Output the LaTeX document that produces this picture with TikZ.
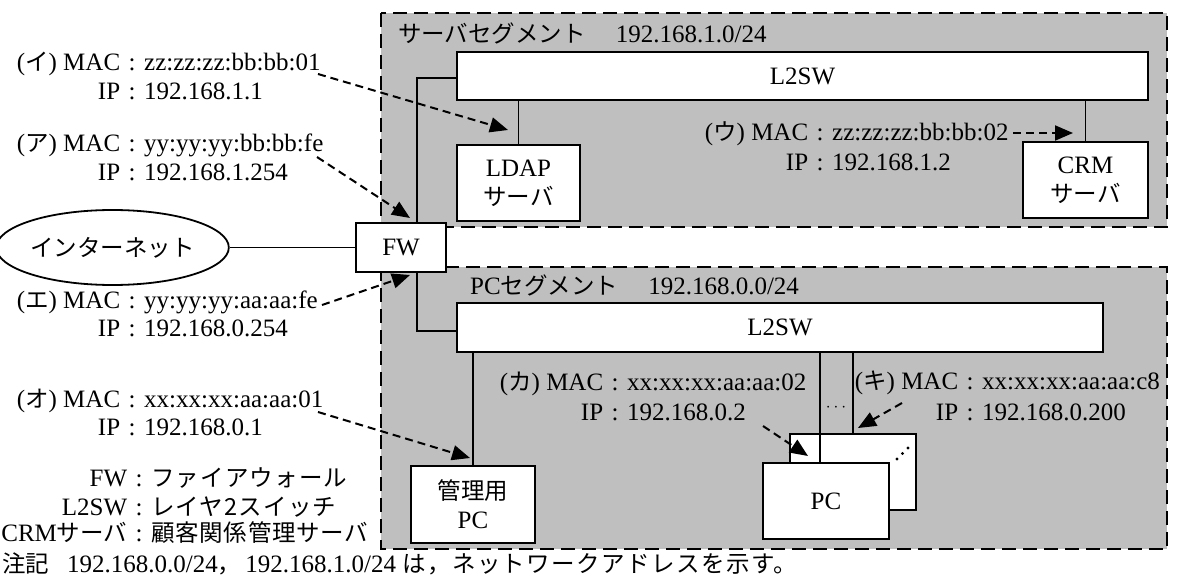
\documentclass[tikz,border=0pt]{standalone}
\usepackage{fontspec}
\setmainfont{Liberation Serif}
\newfontfamily\jpfont[Scale=0.94]{Noto Sans CJK JP}
\newcommand\J[1]{{\jpfont #1}}
\newcommand\kv[2]{\llap{#1}\makebox[24pt]{:}#2}
\usetikzlibrary{arrows.meta,shapes.geometric}
\begin{document}
\begin{tikzpicture}[x=1pt,y=-1pt,
  font=\fontsize{25}{29}\selectfont,
  seg/.style={draw, dash pattern=on 14pt off 7pt, line width=2pt, fill=black!25},
  box/.style={draw, line width=1.8pt, fill=white, inner sep=0pt, align=center},
  wire/.style={line width=1.8pt},
  ptr/.style={line width=2pt, dash pattern=on 8pt off 5pt, -{Triangle[length=18pt,width=15pt]}},
  lbl/.style={anchor=base west, inner sep=0pt},
]
\useasboundingbox (0,0) rectangle (1177,585);
\fill[white] (0,0) rectangle (1177,585);

% segments
\path[seg] (381,13) rectangle (1167,227);
\path[seg] (381,267) rectangle (1167,549);

\node[lbl] (sseg) at (398,43) {\J{サーバセグメント}\hspace{30pt}192.168.1.0/24};
\node[lbl] (pseg) at (470,294) {PC\J{セグメント}\hspace{30pt}192.168.0.0/24};

% boxes
\node[ellipse, draw, line width=1.8pt, fill=white, minimum width=211pt, minimum height=75pt, inner sep=0pt] (inet) at (112.5,247.5) {\J{インターネット}};
\node[box, minimum width=90pt, minimum height=49pt] (fw) at (401,247.5) {FW};
\node[box, minimum width=691pt, minimum height=48pt] (sw1) at (802.5,76) {L2SW};
\node[box, minimum width=123pt, minimum height=76pt] (ldap) at (518.5,183) {LDAP\\\J{サーバ}};
\node[box, minimum width=125pt, minimum height=76pt] (crm) at (1085.5,180) {CRM\\\J{サーバ}};
\node[box, minimum width=646pt, minimum height=49pt] (sw2) at (780,327.5) {L2SW};
\node[box, minimum width=124pt, minimum height=77pt] (mpc) at (473,504.5) {\J{管理用}\\PC};
\node[box, minimum width=126pt, minimum height=76pt] (pcb) at (853,472) {};
\node[box, minimum width=126pt, minimum height=76pt] (pcf) at (826,501) {PC};

% wires
\coordinate (fwx) at (417,0);
\coordinate (y1) at (0,78);
\coordinate (y2) at (0,331);
\coordinate (l1) at (820,0);
\draw[wire] (inet) -- (fw);
\draw[wire] (fw.north -| fwx) |- (sw1.west |- y1);
\draw[wire] (fw.south -| fwx) |- (sw2.west |- y2);
\draw[wire] (ldap.north) -- (ldap.north |- sw1.south);
\draw[wire] (crm.north) -- (crm.north |- sw1.south);
\draw[wire] (mpc.north) -- (mpc.north |- sw2.south);
\draw[wire] (pcb.north) -- (pcb.north |- sw2.south);
\draw[wire] (pcf.north -| l1) -- (sw2.south -| l1);
\node[inner sep=0pt] (dots) at (836,408) {\fontsize{18}{18}\selectfont$\cdots$};
\fill (897,459) circle (1.6) (902.5,453.5) circle (1.6) (908,448) circle (1.6);

% labels
\node[lbl] (iM) at (120,71) {\kv{(\J{イ}) MAC}{zz:zz:zz:bb:bb:01}};
\node[lbl] (iI) at (120,100) {\kv{IP}{192.168.1.1}};
\node[lbl] (aM) at (120,152) {\kv{(\J{ア}) MAC}{yy:yy:yy:bb:bb:fe}};
\node[lbl] (aI) at (120,181) {\kv{IP}{192.168.1.254}};
\node[lbl] (eM) at (120,308) {\kv{(\J{エ}) MAC}{yy:yy:yy:aa:aa:fe}};
\node[lbl] (eI) at (120,336) {\kv{IP}{192.168.0.254}};
\node[lbl] (oM) at (120,407) {\kv{(\J{オ}) MAC}{xx:xx:xx:aa:aa:01}};
\node[lbl] (oI) at (120,435) {\kv{IP}{192.168.0.1}};
\node[lbl] (uM) at (808,141) {\kv{(\J{ウ}) MAC}{zz:zz:zz:bb:bb:02}};
\node[lbl] (uI) at (808,171) {\kv{IP}{192.168.1.2}};
\node[lbl] (kaM) at (603,390) {\kv{(\J{カ}) MAC}{xx:xx:xx:aa:aa:02}};
\node[lbl] (kaI) at (603,420) {\kv{IP}{192.168.0.2}};
\node[lbl] (kiM) at (958,389) {\kv{(\J{キ}) MAC}{xx:xx:xx:aa:aa:c8}};
\node[lbl] (kiI) at (958,420) {\kv{IP}{192.168.0.200}};

% legend and note
\node[lbl] (lg1) at (127,486) {\kv{FW}{\J{\addfontfeature{LetterSpace=5}ファイアウォール}}};
\node[lbl] (lg2) at (127,515) {\kv{L2SW}{\J{\addfontfeature{LetterSpace=5}レイヤ2スイッチ}}};
\node[lbl] (lg3) at (127,541) {\kv{CRM\J{サーバ}}{\J{\addfontfeature{LetterSpace=3}顧客関係管理サーバ}}};
\node[lbl] (note) at (2,572) {\J{注記}\hspace{18pt}192.168.0.0/24\J{，}\hspace{4pt}192.168.1.0/24 \J{\addfontfeature{LetterSpace=6}は，ネットワークアドレスを示す。}};

% pointer arrows
\coordinate (iS) at (318,74);  \coordinate (iT) at (508,130);
\coordinate (aS) at (317,157); \coordinate (aT) at (410,218);
\coordinate (eS) at (322,305); \coordinate (eT) at (410,275);
\coordinate (oS) at (318,412); \coordinate (oT) at (470,458);
\coordinate (uS) at (1013,133); \coordinate (uT) at (1073,133);
\coordinate (kaS) at (763,426); \coordinate (kaT) at (808,456);
\coordinate (kiS) at (902,403); \coordinate (kiT) at (858,428);
\draw[ptr] (iS) -- (iT);
\draw[ptr] (aS) -- (aT);
\draw[ptr] (eS) -- (eT);
\draw[ptr] (oS) -- (oT);
\draw[ptr] (uS) -- (uT);
\draw[ptr] (kaS) -- (kaT);
\draw[ptr] (kiS) -- (kiT);
\end{tikzpicture}
\end{document}
